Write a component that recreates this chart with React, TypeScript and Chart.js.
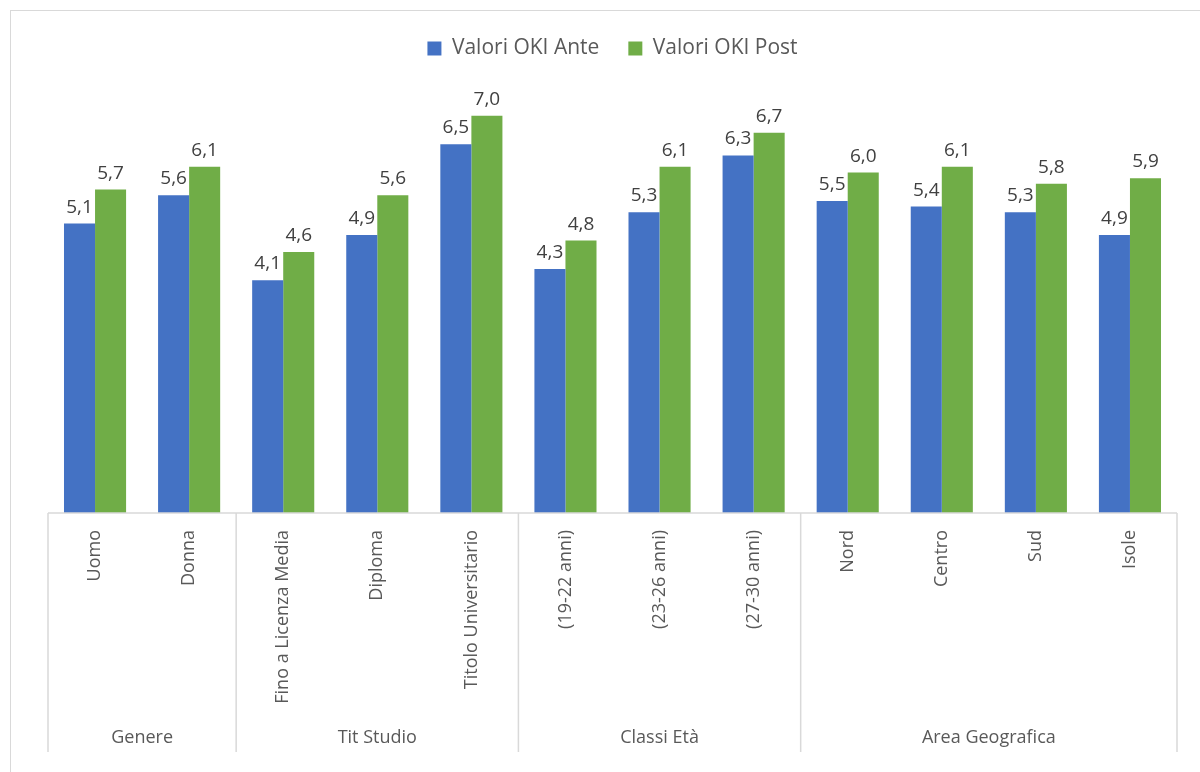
import React, { useEffect, useRef } from "react";
import { Chart, registerables } from "chart.js";

Chart.register(...registerables);

const categories = [
  "Uomo",
  "Donna",
  "Fino a Licenza Media",
  "Diploma",
  "Titolo Universitario",
  "(19-22 anni)",
  "(23-26 anni)",
  "(27-30 anni)",
  "Nord",
  "Centro",
  "Sud",
  "Isole",
];
const groupNames = ["Genere", "Tit Studio", "Classi Età", "Area Geografica"];
const groupSizes = [2, 3, 3, 4];
const seriesNames = ["Valori OKI Ante", "Valori OKI Post"];
const anteValues = [5.1, 5.6, 4.1, 4.9, 6.5, 4.3, 5.3, 6.3, 5.5, 5.4, 5.3, 4.9];
const postValues = [5.7, 6.1, 4.6, 5.6, 7.0, 4.8, 6.1, 6.7, 6.0, 6.1, 5.8, 5.9];

const FONT = "'Open Sans', 'Noto Sans', sans-serif";
const TEXT = "#595959";
const LINE = "#d9d9d9";

const fmt = (v: number) => v.toFixed(1).replace(".", ",");

const legendFitPlugin = {
  id: "legendFit",
  beforeLayout(chart: any) {
    const lg = chart.legend;
    if (lg && !lg.__patched) {
      const orig = lg.fit.bind(lg);
      lg.fit = function () {
        orig();
        this.height = this.height - 10;
      };
      lg.__patched = true;
    }
  },
};

const dataLabelPlugin = {
  id: "dataLabels",
  afterDatasetsDraw(chart: any) {
    const { ctx } = chart;
    ctx.save();
    ctx.font = `19px ${FONT}`;
    ctx.fillStyle = "#404040";
    ctx.textAlign = "center";
    ctx.textBaseline = "alphabetic";
    chart.data.datasets.forEach((ds: any, di: number) => {
      const meta = chart.getDatasetMeta(di);
      meta.data.forEach((bar: any, i: number) => {
        ctx.fillText(fmt(ds.data[i]), bar.x, bar.y - 11);
      });
    });
    ctx.restore();
  },
};

const categoryAxisPlugin = {
  id: "categoryAxis",
  afterDraw(chart: any) {
    const { ctx, chartArea } = chart;
    const x = chart.scales.x;
    const n = categories.length;
    const step = (chartArea.right - chartArea.left) / n;
    const base = chartArea.bottom;
    ctx.save();
    ctx.strokeStyle = LINE;
    ctx.lineWidth = 1.5;
    ctx.beginPath();
    ctx.moveTo(chartArea.left, base);
    ctx.lineTo(chartArea.right, base);
    ctx.stroke();

    // tick labels
    ctx.fillStyle = TEXT;
    ctx.font = `18px ${FONT}`;
    ctx.textAlign = "right";
    ctx.textBaseline = "middle";
    categories.forEach((c, i) => {
      const px = x.getPixelForValue(i);
      ctx.save();
      ctx.translate(px, base + 17);
      ctx.rotate(-Math.PI / 2);
      ctx.fillText(c, 0, 0);
      ctx.restore();
    });

    // group separators and labels
    let start = 0;
    const bounds: number[] = [x.getPixelForValue(0) - step / 2];
    groupSizes.forEach((s) => {
      start += s;
      bounds.push(x.getPixelForValue(start - 1) + step / 2);
    });
    ctx.beginPath();
    bounds.forEach((b) => {
      ctx.moveTo(b, base);
      ctx.lineTo(b, base + 239);
    });
    ctx.stroke();

    ctx.textAlign = "center";
    ctx.font = `18px ${FONT}`;
    groupNames.forEach((g, gi) => {
      const cx = (bounds[gi] + bounds[gi + 1]) / 2;
      ctx.fillText(g, cx, base + 225);
    });
    ctx.restore();
  },
};

export default function App() {
  const ref = useRef<HTMLCanvasElement | null>(null);
  useEffect(() => {
    if (!ref.current) return;
    const chart = new Chart(ref.current, {
      type: "bar",
      data: {
        labels: categories,
        datasets: [
          {
            label: seriesNames[0],
            data: anteValues,
            backgroundColor: "#4472C4",
            barPercentage: 1,
            categoryPercentage: 0.66,
          },
          {
            label: seriesNames[1],
            data: postValues,
            backgroundColor: "#70AD47",
            barPercentage: 1,
            categoryPercentage: 0.66,
          },
        ],
      },
      options: {
        animation: false,
        responsive: true,
        maintainAspectRatio: false,
        layout: { padding: { left: 48, right: 23, top: 9, bottom: 259 } },
        scales: {
          x: { display: false, grid: { display: false } },
          y: { display: false, min: 0, max: 8 },
        },
        plugins: {
          legend: {
            position: "top",
            labels: {
              boxWidth: 14,
              boxHeight: 14,
              padding: 29,
              color: TEXT,
              font: { family: FONT, size: 21 },
            },
          },
          tooltip: { enabled: false },
        },
      },
      plugins: [legendFitPlugin, dataLabelPlugin, categoryAxisPlugin],
    });
    return () => chart.destroy();
  }, []);

  return (
    <div style={{ position: "fixed", left: 0, top: 0, width: 1200, height: 772, background: "#fff", overflow: "hidden" }}>
      <div
        style={{
          position: "absolute",
          left: 10,
          top: 10,
          width: 1220,
          height: 800,
          border: "1.5px solid #d9d9d9",
          boxSizing: "border-box",
        }}
      />
      <div style={{ position: "absolute", left: 0, top: 0, width: 1200, height: 772 }}>
        <canvas ref={ref} />
      </div>
    </div>
  );
}
